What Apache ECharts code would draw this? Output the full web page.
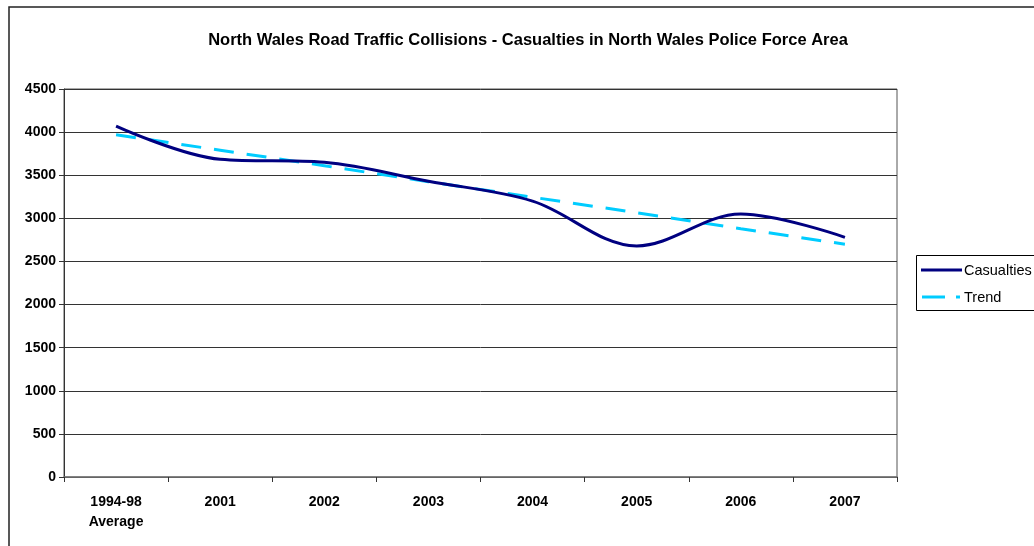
<!DOCTYPE html>
<html>
<head>
<meta charset="utf-8">
<script src="https://cdn.jsdelivr.net/npm/echarts@6/dist/echarts.min.js"></script>
<style>
html,body{margin:0;padding:0;background:#fff;}
#chart{width:1034px;height:546px;}
</style>
</head>
<body>
<div id="chart"></div>
<script>
var categories = ['1994-98\nAverage', '2001', '2002', '2003', '2004', '2005', '2006', '2007'];
var casualties = [4070, 3685, 3650, 3430, 3200, 2680, 3050, 2780];
var trend = [3970, 3790, 3610, 3425, 3245, 3065, 2880, 2700];
var yTicks = {min: 0, max: 4500, interval: 500};
var seriesNames = ['Casualties', 'Trend'];

var navy = '#000080', cyan = '#00CCFF';
var chart = echarts.init(document.getElementById('chart'), null, {renderer: 'canvas'});
var font = '"Liberation Sans", Arial, sans-serif';
chart.setOption({
  animation: false,
  backgroundColor: '#fff',
  title: {
    text: 'North Wales Road Traffic Collisions - Casualties in North Wales Police Force Area',
    left: 523, top: 27, textAlign: 'center',
    textStyle: {fontFamily: font, fontSize: 16.5, fontWeight: 'bold', color: '#000'}
  },
  graphic: [
    {type: 'rect', shape: {x: 9, y: 7, width: 1100, height: 600}, style: {fill: 'none', stroke: '#222', lineWidth: 1.5}, silent: true},
    {type: 'rect', shape: {x: 916.5, y: 255.5, width: 200, height: 55}, style: {fill: '#fff', stroke: '#000', lineWidth: 1}, silent: true, z: 1},
    {type: 'line', shape: {x1: 921, y1: 270, x2: 962, y2: 270}, style: {stroke: navy, lineWidth: 3}, silent: true, z: 2},
    {type: 'text', x: 964, y: 271, style: {text: seriesNames[0], font: '14.5px ' + font, fill: '#000', textVerticalAlign: 'middle'}, silent: true, z: 2},
    {type: 'line', shape: {x1: 922, y1: 297, x2: 945, y2: 297}, style: {stroke: cyan, lineWidth: 3}, silent: true, z: 2},
    {type: 'line', shape: {x1: 956, y1: 297, x2: 960, y2: 297}, style: {stroke: cyan, lineWidth: 3}, silent: true, z: 2},
    {type: 'text', x: 964, y: 298, style: {text: seriesNames[1], font: '14.5px ' + font, fill: '#000', textVerticalAlign: 'middle'}, silent: true, z: 2}
  ],
  grid: {left: 64, right: 137, top: 89, bottom: 69, show: true, borderColor: '#555', borderWidth: 1},
  xAxis: {
    type: 'category', data: categories, boundaryGap: true,
    axisLine: {lineStyle: {color: '#777', width: 1.5}},
    axisTick: {show: true, interval: 0, length: 5, lineStyle: {color: '#333'}},
    axisLabel: {interval: 0, margin: 15, fontFamily: font, fontSize: 14, fontWeight: 'bold', color: '#000', lineHeight: 20}
  },
  yAxis: {
    type: 'value', min: yTicks.min, max: yTicks.max, interval: yTicks.interval,
    axisLine: {show: true, lineStyle: {color: '#333'}},
    axisTick: {show: true, length: 5, lineStyle: {color: '#333'}},
    axisLabel: {margin: 8, fontFamily: font, fontSize: 14, fontWeight: 'bold', color: '#000',
      formatter: function (v) { return String(v); }},
    splitLine: {lineStyle: {color: '#333', width: 1}}
  },
  series: [
    {name: seriesNames[0], type: 'line', data: casualties, smooth: 0.35, symbol: 'none',
     lineStyle: {color: navy, width: 3}, itemStyle: {color: navy}, z: 3},
    {name: seriesNames[1], type: 'line', data: trend, smooth: false, symbol: 'none',
     lineStyle: {color: cyan, width: 3, type: [20, 13]}, itemStyle: {color: cyan}, z: 2}
  ]
});
</script>
</body>
</html>
